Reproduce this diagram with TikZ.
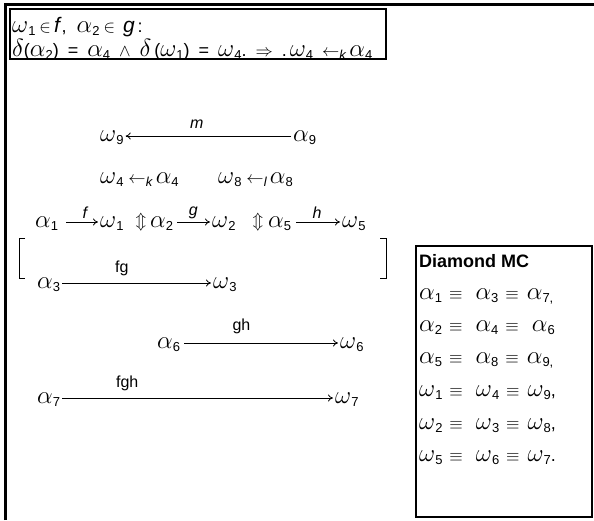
\documentclass[tikz,border=0pt]{standalone}
\usepackage{amssymb,amsmath}
\usepackage{fontspec}
\setmainfont{Liberation Sans}
\usetikzlibrary{arrows.meta}
% greek letters set larger than the text, digits as lowered sans
\newcommand{\gk}[1]{{\fontsize{27}{27}\selectfont$#1$}}
\newcommand{\sub}[1]{\raisebox{-3pt}{\fontsize{13}{13}\selectfont #1}}
\newcommand{\al}[1]{\gk{\alpha}\sub{#1}}
\newcommand{\om}[1]{\gk{\omega}\sub{#1}}
\newcommand{\lft}[1]{{\fontsize{16}{16}\selectfont$\leftarrow$}\sub{\textit{#1}}}
\newcommand{\bigit}[1]{{\fontsize{21}{21}\selectfont\textit{#1}}}
\newcommand{\ud}{{\fontsize{19}{19}\selectfont$\Updownarrow$}}
\newcommand{\eqv}{\hspace{7pt}$\equiv$\hspace{8pt}}
\newcommand{\gap}{\hspace{9pt}}
\tikzset{sym/.style = {inner sep=2pt, text height=14pt, text depth=4pt, anchor=west}}
\tikzset{arr/.style = {-{To[length=5pt,width=7pt]}, line width=0.8pt}}
\tikzset{lbl/.style = {font=\fontsize{16}{16}\selectfont, inner sep=3pt}}
\tikzset{frame/.style = {line width=2pt}}
\tikzset{txt/.style = {anchor=west, inner sep=0pt}}

\begin{document}
\begin{tikzpicture}[x=1pt, y=-1pt, font=\fontsize{18}{20}\selectfont]
  \useasboundingbox (0,0) rectangle (594,520);
  % outer frame
  \draw[line width=3pt] (5,520) -- (5,4.5) -- (594,4.5);
  % condition box
  \draw[frame] (10,9) rectangle (386,59);
  \node[txt] (cond1) at (12,27) {\om{1}\hspace{4pt}$\in$\hspace{3pt}\bigit{f},\hspace{10pt}\al{2}\hspace{4pt}$\in$\hspace{8pt}\bigit{g}\,:};
  \node[txt] (cond2) at (12,50) {\gk{\delta}(\al{2})\gap=\gap\al{4}\gap$\wedge$\gap\gk{\delta}\,(\om{1})\gap=\gap\om{4}.\gap$\Rightarrow$\gap.\,\om{4}\gap\lft{k}\,\al{4}};
  % m arrow
  \node[sym] (w9) at (98,136) {\om{9}};
  \node[sym] (a9) at (291,136) {\al{9}};
  \draw[arr] (a9) -- node[lbl, above=4pt, pos=0.57] {\textit{m}} (w9);
  \node[sym] (kpair) at (98,178) {\om{4}\ \lft{k}\,\al{4}};
  \node[sym] (lpair) at (216,178) {\om{8}\ \lft{l}\,\al{8}};
  % first row
  \node[sym] (a1) at (33,222) {\al{1}};
  \node[sym] (w1) at (98,222) {\om{1}};
  \node (ud1) at (141,222) {\ud};
  \node[sym] (a2) at (148,222) {\al{2}};
  \node[sym] (w2) at (210,222) {\om{2}};
  \node (ud2) at (258,222) {\ud};
  \node[sym] (a5) at (266,222) {\al{5}};
  \node[sym] (w5) at (340,222) {\om{5}};
  \draw[arr, shorten <=6pt] (a1) -- node[lbl, above, pos=0.67] {\textit{f}} (w1);
  \draw[arr, shorten <=2pt] (a2) -- node[lbl, above, pos=0.52] {\textit{g}} (w2);
  \draw[arr, shorten <=3pt] (a5) -- node[lbl, above, pos=0.51] {\textit{h}} (w5);
  % brackets
  \draw[line width=1pt] (25,238) -- (19,238) -- (19,278) -- (25,278);
  \draw[line width=1pt] (380,238) -- (386,238) -- (386,278) -- (380,278);
  % composed arrows
  \node[sym] (a3) at (35,283) {\al{3}};
  \node[sym] (w3) at (211,283) {\om{3}};
  \draw[arr] (a3) -- node[lbl, above=4pt, pos=0.4] {fg} (w3);
  \node[sym] (a6) at (155,343) {\al{6}};
  \node[sym] (w6) at (338,343) {\om{6}};
  \draw[arr, shorten <=2pt] (a6) -- node[lbl, above=6pt, pos=0.38] {gh} (w6);
  \node[sym] (a7) at (35,398) {\al{7}};
  \node[sym] (w7) at (333,398) {\om{7}};
  \draw[arr] (a7) -- node[lbl, above=4pt, pos=0.24] {fgh} (w7);
  % diamond box
  \draw[frame] (416,246) rectangle (592,517);
  \node[txt, font=\fontsize{18}{20}\selectfont\bfseries] (dmc) at (419,261) {Diamond MC};
  \node[txt] (eq1) at (419,296) {\al{1}\eqv\hspace{5pt}\al{3}\eqv\al{7,}};
  \node[txt] (eq2) at (419,328) {\al{2}\eqv\hspace{5pt}\al{4}\eqv\hspace{5pt}\al{6}};
  \node[txt] (eq3) at (419,360) {\al{5}\eqv\hspace{5pt}\al{8}\eqv\al{9,}};
  \node[txt] (eq4) at (419,393) {\om{1}\eqv\hspace{5pt}\om{4}\eqv\om{9},};
  \node[txt] (eq5) at (419,426) {\om{2}\eqv\hspace{5pt}\om{3}\eqv\om{8},};
  \node[txt] (eq6) at (419,458) {\om{5}\eqv\hspace{5pt}\om{6}\eqv\om{7}.};
\end{tikzpicture}
\end{document}
